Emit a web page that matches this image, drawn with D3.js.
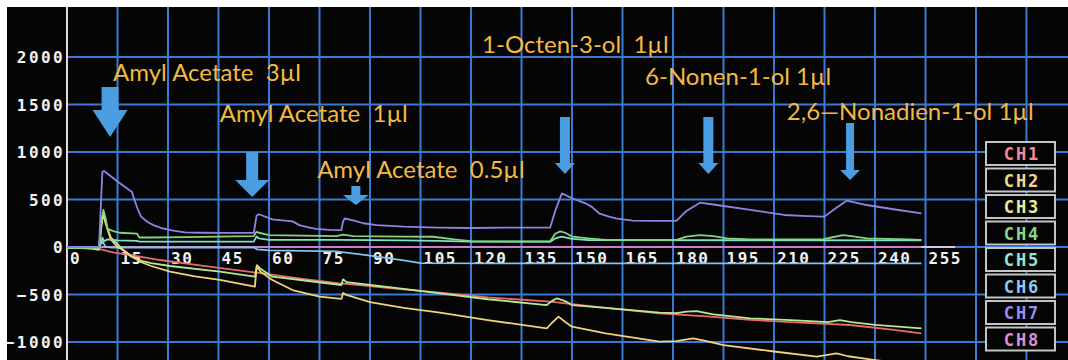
<!DOCTYPE html>
<html>
<head>
<meta charset="utf-8">
<script src="https://cdn.jsdelivr.net/npm/d3@7"></script>
<style>
  body { margin: 0; background: #fff; }
  svg { display: block; }
</style>
</head>
<body>
<div id="chart"></div>
<script>
// Axis ticks: time (s) and sensor signal
const xTicks = d3.range(0, 256, 15);
const yTicks = [-1000, -500, 0, 500, 1000, 1500, 2000];

const channelNames = ["CH1", "CH2", "CH3", "CH4", "CH5", "CH6", "CH7", "CH8"];
const channelColors = ["#e86a6a", "#f0d27a", "#b8e890", "#7ed87e", "#80e0c8", "#86c2ea", "#9282e2", "#cc7cd4"];
const legendColors = ["#f08a98", "#f2d88e", "#e4eea0", "#88d888", "#8ee6d6", "#8ec8f0", "#9a8ce8", "#d890d8"];

// [seconds, signal]
const ch1 = [[0,0],[7.5,-10],[9.5,-20],[14,-60],[20,-90],[27.6,-137],[40,-195],[56.4,-270],[70,-335],[81,-383],[87,-400],[95,-430],[110.8,-480],[125,-530],[143.5,-576],[160,-640],[176,-698],[190,-730],[203,-768],[215,-790],[232.5,-821],[245,-870],[253.8,-909]];
const ch2 = [[0,0],[7.7,-20],[9.5,-30],[10.3,250],[10.8,350],[11.5,250],[13,80],[15,0],[17,-40],[18.7,-84],[21.7,-155],[25,-200],[30.6,-260],[38,-310],[45.4,-347],[55.8,-418],[56.4,-200],[57.5,-260],[61,-347],[67,-453],[75,-523],[81.5,-547],[82,-484],[83,-505],[90,-580],[100,-640],[110.8,-690],[125,-770],[142.5,-856],[144,-800],[146,-733],[148,-790],[150,-839],[160,-910],[176,-996],[181,-990],[186,-961],[190,-990],[195,-1032],[210,-1100],[222.7,-1155],[225,-1140],[228.6,-1120],[232,-1150],[240,-1190],[253.8,-1250]];
const ch3 = [[0,-5],[9.5,-10],[10.3,250],[10.8,360],[11.5,250],[13,100],[15,30],[17,-40],[19,-100],[21.7,-144],[25,-170],[30.6,-200],[45.4,-260],[55.8,-312],[56.4,-190],[57.5,-230],[61,-312],[70,-350],[81.5,-400],[82,-340],[83,-370],[90,-400],[100,-440],[110.8,-488],[125,-550],[142.5,-611],[144,-570],[145.5,-540],[148,-570],[150,-611],[160,-640],[176,-691],[181,-695],[184,-680],[187,-675],[192,-710],[203,-751],[215,-770],[226,-790],[229.6,-770],[233,-790],[240,-820],[253.8,-856]];
const ch4 = [[0,-10],[9.5,-10],[10.3,300],[10.8,390],[11.5,300],[12,190],[14,165],[15.7,150],[20.8,140],[21.5,100],[25,100],[35,105],[45,110],[55.5,115],[56.3,160],[57,150],[60,125],[70,120],[80,115],[82,130],[85,115],[100,110],[108.7,108],[115,80],[120.6,60],[130,58],[143.5,58],[145,140],[146.5,165],[148,150],[150,110],[155,90],[160,76],[181,74],[184,110],[188,126],[192,115],[196,91],[203,81],[224.5,81],[227,100],[230.5,126],[233,115],[237.6,91],[250,81],[253.8,75]];
const ch5 = [[0,-10],[9.5,-10],[10.5,100],[11,60],[12,80],[15,70],[20.8,65],[21.5,56],[40,56],[55.5,56],[56.3,110],[57,90],[60,75],[80,74],[100,70],[110,65],[120,56],[143.5,56],[145,90],[147,110],[150,85],[155,72],[253.8,70]];
const ch6 = [[0,-5],[9.5,-5],[10.5,60],[11.5,0],[13,-5],[55.5,-5],[56.5,-25],[60,-35],[80,-45],[90,-90],[100,-140],[105,-170],[130,-172],[253.8,-172]];
const ch7 = [[0,0],[9.5,0],[10.5,790],[11,800],[15,690],[19.3,580],[20,500],[21,400],[22,320],[24,260],[26,225],[28,200],[31,175],[35,155],[40,150],[47,148],[55.5,150],[56.3,330],[57,345],[61,290],[67,270],[69,230],[72,205],[74,190],[78,180],[81.5,178],[82,270],[82.5,300],[85,280],[88,250],[92,230],[100,215],[110,205],[120,200],[130,203],[143.5,203],[145,380],[147,565],[150,513],[154,460],[156,420],[158,355],[161,320],[163,302],[168,277],[175,275],[181,275],[184,380],[188,466],[193,442],[203,390],[208,365],[213,337],[220,325],[225,320],[228,400],[231.6,487],[237.5,442],[245,400],[253.8,355]];
const ch8 = [[0,0],[253.8,0]];

// Odor pulses: label text, label anchor [s, signal], arrow [s, top, tip]
const pulseLabels = ["Amyl Acetate  3µl", "Amyl Acetate  1µl", "Amyl Acetate  0.5µl", "1-Octen-3-ol  1µl", "6-Nonen-1-ol 1µl", "2,6—Nonadien-1-ol 1µl"];
const labelAnchors = [[13.7,1748],[45.4,1316],[74.3,727],[123.3,2043],[171.7,1706],[213.8,1337]];
const arrowSpots = [[12.8,1685,1158],[55,1000,526],[85.8,642,442],[147.9,1369,769],[190.5,1369,769],[232.6,1306,706]];
// arrow shapes in px: shaft width, head width, head height
const arrowShapes = [[17,35,27],[12,34,17],[9,26,10],[10,20,11],[10,20,11],[8,20,10]];

const W = 1068, H = 360;

const svg = d3.select("#chart").append("svg")
    .attr("width", W)
    .attr("height", H);

// white frame at top/left, black screen
svg.append("rect").attr("width", W).attr("height", H).attr("fill", "#fff");
svg.append("rect").attr("x", 7).attr("y", 7).attr("width", W - 7).attr("height", H - 7).attr("fill", "#050505");

const x = d3.scaleLinear().domain([0, 255]).range([67, 925.5]);
const y = d3.scaleLinear().domain([-1000, 2000]).range([342, 57]);

// grid
svg.append("g").selectAll("line")
    .data(d3.range(15, 300, 15))
    .join("line")
    .attr("x1", d => x(d)).attr("x2", d => x(d))
    .attr("y1", 7).attr("y2", H)
    .attr("stroke", "#3a7ad6").attr("stroke-width", 2);
svg.append("g").selectAll("line")
    .data(yTicks)
    .join("line")
    .attr("x1", x(0)).attr("x2", W)
    .attr("y1", d => y(d)).attr("y2", d => y(d))
    .attr("stroke", "#3a7ad6").attr("stroke-width", 2);

// y axis
const yAxis = svg.append("g")
    .attr("transform", `translate(${x(0)},0)`)
    .call(d3.axisLeft(y).tickValues(yTicks).tickSize(0).tickPadding(2).tickFormat(d3.format("d")));
yAxis.select(".domain").remove();
yAxis.append("line").attr("y1", 7).attr("y2", H).attr("stroke", "#dcdcdc").attr("stroke-width", 2);
yAxis.selectAll("text")
    .attr("fill", "#f2f2f2")
    .attr("dy", "0.36em")
    .style("font", "bold 16px 'DejaVu Sans Mono'")
    .style("letter-spacing", "2.4px");

// x axis
const xAxis = svg.append("g")
    .attr("transform", `translate(0,${y(0)})`)
    .call(d3.axisBottom(x).tickValues(xTicks).tickSize(0).tickPadding(0));
xAxis.select(".domain").remove();
xAxis.append("line").attr("x1", x(0)).attr("x2", 955).attr("stroke", "#d8c4e4").attr("stroke-width", 2);
xAxis.selectAll(".tick text")
    .attr("fill", "#f2f2f2")
    .attr("text-anchor", "start")
    .attr("x", 2.5)
    .attr("y", 11)
    .attr("dy", "0.36em")
    .style("font", "bold 16px 'DejaVu Sans Mono'")
    .style("letter-spacing", "1.5px");

// traces
const line = d3.line().x(d => x(d[0])).y(d => y(d[1]));
const traces = [ch8, ch6, ch1, ch3, ch2, ch5, ch4, ch7];
const traceIdx = [7, 5, 0, 2, 1, 4, 3, 6];
svg.append("g").selectAll("path")
    .data(traces)
    .join("path")
    .attr("d", line)
    .attr("fill", "none")
    .attr("stroke", (d, i) => channelColors[traceIdx[i]])
    .attr("stroke-width", 1.8)
    .attr("stroke-linejoin", "round");

// arrows
svg.append("g").selectAll("path")
    .data(arrowSpots)
    .join("path")
    .attr("fill", "#4a9de0")
    .attr("d", (d, i) => {
        const [sw, hw, hh] = arrowShapes[i];
        const cx = x(d[0]), top = y(d[1]), tip = y(d[2]), neck = tip - hh;
        return `M${cx - sw / 2},${top}H${cx + sw / 2}V${neck}H${cx + hw / 2}L${cx},${tip}L${cx - hw / 2},${neck}H${cx - sw / 2}Z`;
    });

// pulse labels
svg.append("g").selectAll("text")
    .data(pulseLabels)
    .join("text")
    .attr("x", (d, i) => x(labelAnchors[i][0]))
    .attr("y", (d, i) => y(labelAnchors[i][1]))
    .attr("fill", "#f2b944")
    .style("font", "24px Lato, 'Open Sans', sans-serif")
    .style("white-space", "pre")
    .text(d => d);

// legend
const legend = svg.append("g").selectAll("g")
    .data(channelNames)
    .join("g")
    .attr("transform", (d, i) => `translate(986,${142 + i * 26.5})`);
legend.append("rect")
    .attr("width", 69).attr("height", 23)
    .attr("fill", "#050505")
    .attr("stroke", "#c4c4c4").attr("stroke-width", 2);
legend.append("text")
    .attr("x", 36).attr("y", 12).attr("dy", "0.36em")
    .attr("text-anchor", "middle")
    .attr("fill", (d, i) => legendColors[i])
    .style("font", "bold 17px 'DejaVu Sans Mono'")
    .style("letter-spacing", "2px")
    .text(d => d);
</script>
</body>
</html>
